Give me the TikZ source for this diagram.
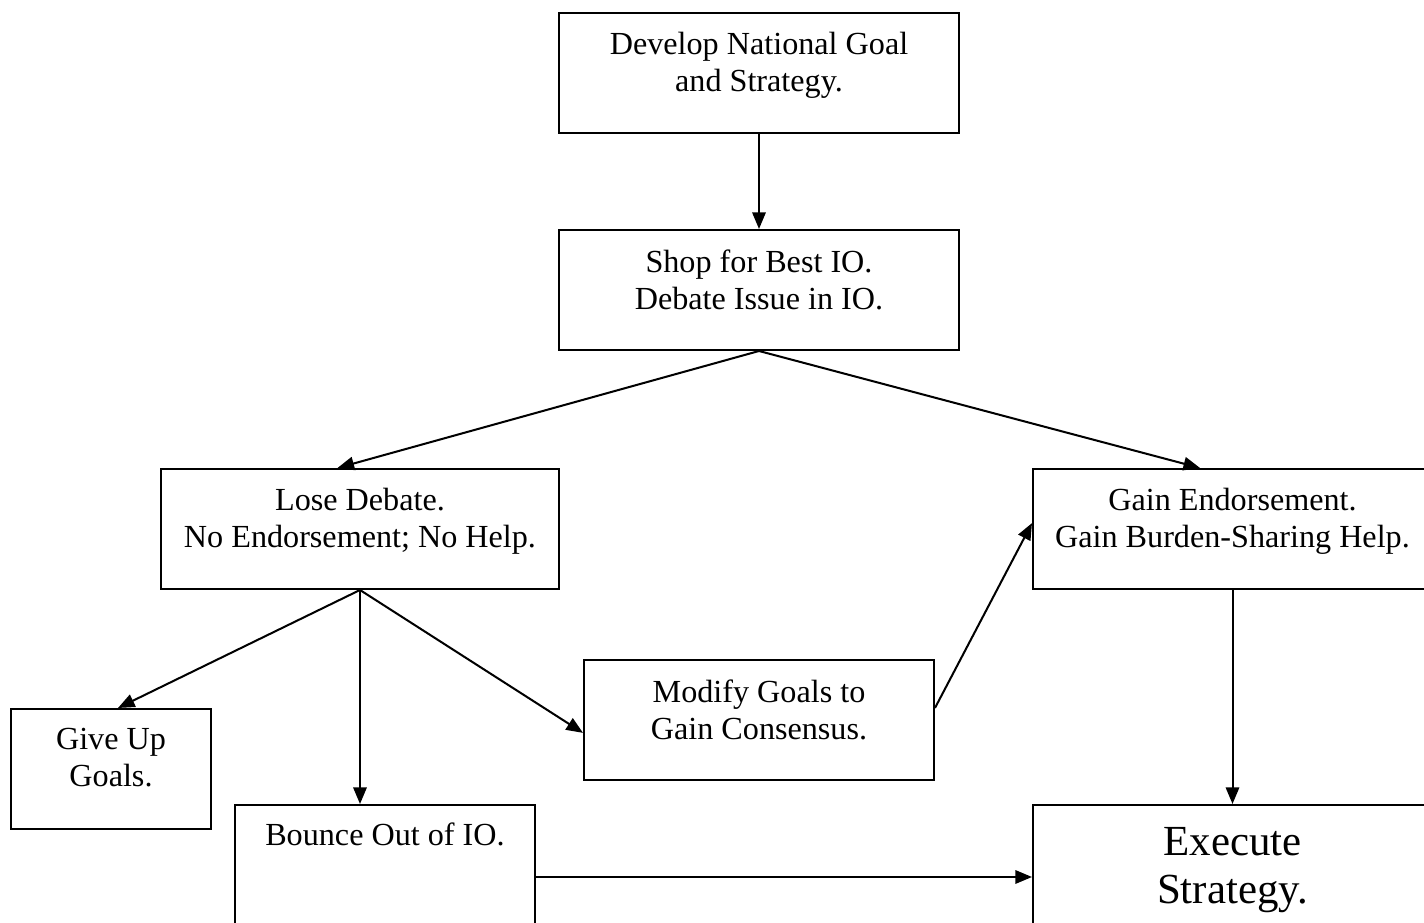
\documentclass[tikz,border=0pt]{standalone}
\usepackage{fontspec}
\setmainfont{Liberation Serif}
\usetikzlibrary{arrows.meta,fit}
\begin{document}
\begin{tikzpicture}[x=0.373pt, y=-0.373pt,
        box/.style={draw, line width=0.75pt, inner sep=0pt},
        txt/.style={anchor=north, align=center, inner sep=0pt, font=\fontsize{12}{13.8}\selectfont},
        arr/.style={-{Triangle[length=6.2pt,width=5pt]}, line width=0.75pt}]
        \clip (0,0) rectangle (1424,923);

        \node[box, fit={(559,13) (959,133)}] (develop) {};
        \node[txt] (developtxt) at ([yshift=-7.4pt]develop.north) {Develop National Goal\\and Strategy.};
        \node[box, fit={(559,230) (959,350)}] (shop) {};
        \node[txt] (shoptxt) at ([yshift=-7.4pt]shop.north) {Shop for Best IO.\\Debate Issue in IO.};
        \node[box, fit={(161,469) (559,589)}] (lose) {};
        \node[txt] (losetxt) at ([yshift=-7.4pt]lose.north) {Lose Debate.\\No Endorsement; No Help.};
        \node[box, fit={(1033,469) (1432,589)}] (gain) {};
        \node[txt] (gaintxt) at ([yshift=-7.4pt]gain.north) {Gain Endorsement.\\Gain Burden-Sharing Help.};
        \node[box, fit={(11,709) (211,829)}] (giveup) {};
        \node[txt] (giveuptxt) at ([yshift=-7.4pt]giveup.north) {Give Up\\Goals.};
        \node[box, fit={(584,660) (934,780)}] (modify) {};
        \node[txt] (modifytxt) at ([yshift=-7.4pt]modify.north) {Modify Goals to\\Gain Consensus.};
        \node[box, fit={(235,805) (535,949)}] (bounce) {};
        \node[txt] (bouncetxt) at ([yshift=-7pt]bounce.north) {Bounce Out of IO.};
        \node[box, fit={(1033,805) (1432,949)}] (execute) {};
        \node[txt, font=\fontsize{16}{17.8}\selectfont] (executetxt) at ([yshift=-8.6pt]execute.north) {Execute\\Strategy.};

        \draw[arr] (develop.south) -- (shop.north);
        \draw[arr] (shop.south) -- ([xshift=-8.4pt]lose.north);
        \draw[arr] (shop.south) -- ([xshift=-12.1pt]gain.north);
        \draw[arr] (lose.south) -- ([xshift=2.6pt]giveup.north);
        \draw[arr] (lose.south) -- (lose.south |- bounce.north);
        \draw[arr] (lose.south) -- ([yshift=-4.8pt]modify.west);
        \draw[arr] ([yshift=4.5pt]modify.east) -- ([yshift=2.2pt]gain.west);
        \draw[arr] (gain.south) -- (gain.south |- execute.north);
        \draw[arr] (bounce.east) -- (execute.west);
    \end{tikzpicture}
\end{document}
